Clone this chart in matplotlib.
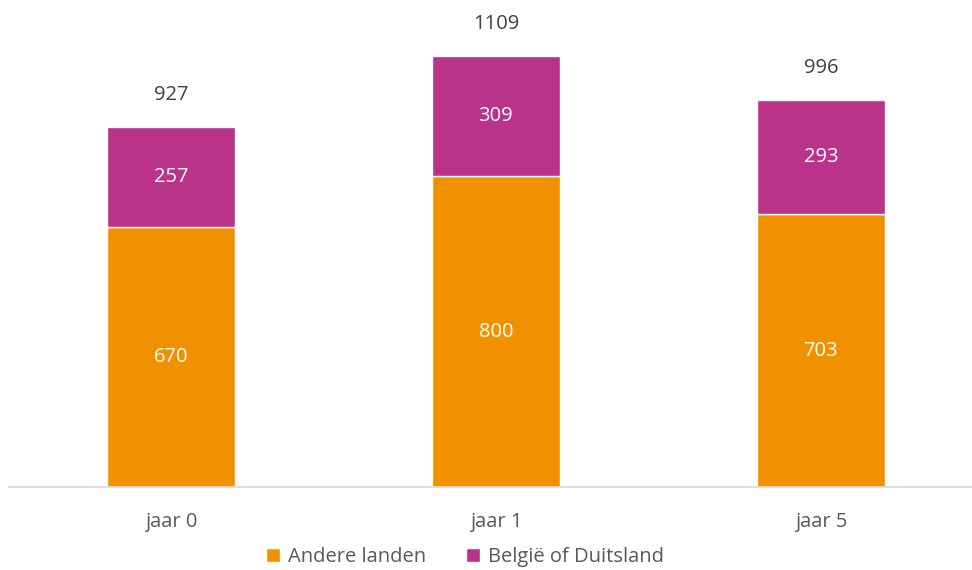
import matplotlib.pyplot as plt
import numpy as np

# Data
categories = ['jaar 0', 'jaar 1', 'jaar 5']
andere_landen = [670, 800, 703]
belgie_duitsland = [257, 309, 293]
totals = [927, 1109, 996]

orange = '#F29100'
magenta = '#B93389'

plt.rc('font', family=['Open Sans', 'DejaVu Sans'])

fig = plt.figure(figsize=(9.72, 5.70), dpi=100)
ax = fig.add_axes([9 / 972, (570 - 487) / 570, 963 / 972, 466 / 570])

x = np.arange(len(categories))
w = 0.394

b1 = ax.bar(x, andere_landen, w, color=orange, edgecolor='white', linewidth=1, label='Andere landen')
b2 = ax.bar(x, belgie_duitsland, w, bottom=andere_landen, color=magenta, edgecolor='white',
            linewidth=1, label='België of Duitsland')

# Segment labels
fs = 14.5
for i in range(len(categories)):
    ax.text(x[i], andere_landen[i] / 2, str(andere_landen[i]), ha='center', va='center',
            color='white', fontsize=fs)
    ax.text(x[i], andere_landen[i] + belgie_duitsland[i] / 2, str(belgie_duitsland[i]),
            ha='center', va='center', color='white', fontsize=fs)
    ax.annotate(str(totals[i]), (x[i], totals[i]), xytext=(0, 23), textcoords='offset points',
                ha='center', va='center', color='#404040', fontsize=fs)

ax.set_xlim(-0.498, 2.465)
ax.set_ylim(0, 1200)

for s in ['top', 'right', 'left']:
    ax.spines[s].set_visible(False)
ax.spines['bottom'].set_color('#D9D9D9')
ax.spines['bottom'].set_linewidth(1.2)
ax.set_yticks([])
ax.set_xticks(x)
ax.set_xticklabels(categories, fontsize=fs, color='#595959')
ax.tick_params(axis='x', length=0, pad=18)

fig.legend(handles=[b1, b2], loc='center', bbox_to_anchor=(465 / 972, 1 - 557 / 570), ncol=2,
           frameon=False, fontsize=fs, labelcolor='#595959', handlelength=0.7, handleheight=0.7,
           handletextpad=0.4, columnspacing=2.0)

plt.savefig('out.png', dpi=100)
